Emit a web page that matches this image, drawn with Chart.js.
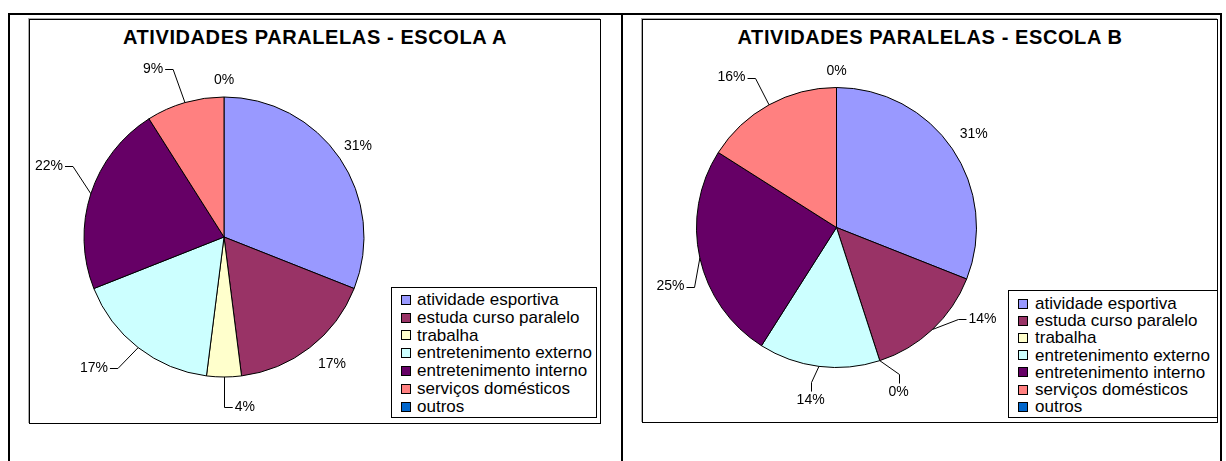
<!DOCTYPE html>
<html><head><meta charset="utf-8">
<script src="https://cdn.jsdelivr.net/npm/chart.js@4.4.1/dist/chart.umd.min.js"></script>
<style>
html,body{margin:0;padding:0;background:#fff;width:1226px;height:461px;overflow:hidden;font-family:"Liberation Sans",Arial,sans-serif;}
.cell{position:absolute;border:2px solid #000;box-sizing:border-box;}
.box{position:absolute;border:1px solid #000;box-shadow:-1px -1px 0 #aaa;box-sizing:border-box;background:#fff;}
.title{position:absolute;text-align:center;font-weight:bold;font-size:20px;letter-spacing:0.6px;line-height:22px;color:#000;white-space:nowrap;}
canvas{position:absolute;}
.legend{position:absolute;border:1px solid #000;box-sizing:border-box;background:#fff;font-size:17px;letter-spacing:0px;color:#000;}
.legend .row{position:relative;white-space:nowrap;}
.legend .sw{position:absolute;width:8px;height:8px;border:1px solid #000;}
.legend .tx{position:absolute;}
</style>
</head><body>
<div class="cell" style="left:8px;top:13px;width:615px;height:480px;"></div>
<div class="cell" style="left:621px;top:13px;width:601px;height:480px;"></div>
<div class="box" style="left:29px;top:19px;width:572px;height:405px;"></div>
<div class="box" style="left:642px;top:19px;width:576px;height:404px;"></div>
<div class="title" id="titleA" style="left:29px;width:572px;top:26px;"></div>
<div class="title" id="titleB" style="left:642px;width:576px;top:26px;"></div>
<canvas id="chartA" width="570" height="403" style="left:30px;top:20px;width:570px;height:403px;"></canvas>
<canvas id="chartB" width="574" height="402" style="left:643px;top:20px;width:574px;height:402px;"></canvas>
<div class="legend" id="legendA" style="left:391px;top:287px;width:206px;height:131px;"></div>
<div class="legend" id="legendB" style="left:1008px;top:290px;width:210px;height:128px;"></div>
<script>
// ---- data ----
const categories = [
  "atividade esportiva",
  "estuda curso paralelo",
  "trabalha",
  "entretenimento externo",
  "entretenimento interno",
  "serviços domésticos",
  "outros"
];
const escolaA = [31, 17, 4, 17, 22, 9, 0];
const escolaB = [31, 14, 0, 14, 25, 16, 0];
const titleA = "ATIVIDADES PARALELAS - ESCOLA A";
const titleB = "ATIVIDADES PARALELAS - ESCOLA B";
const sliceColors = ["#9999FF", "#993366", "#FFFFCC", "#CCFFFF", "#660066", "#FF8080", "#0066CC"];

// ---- label placement (distance from centre, angular shift in degrees, leader type) ----
const placeA = [
  {dist:162, shift:0},
  {dist:167, shift:-2.5},
  {dist:171, shift:-7, leader:'hv'},
  {dist:184.6, shift:7, leader:'h'},
  {dist:188.9, shift:4.1, leader:'h'},
  {dist:182.4, shift:-6.7, leader:'h'},
  {dist:157, shift:0}
];
const placeB = [
  {dist:166, shift:0},
  {dist:172.5, shift:-14.6, leader:'h'},
  {dist:176.3, shift:-2.6, leader:'v'},
  {dist:175, shift:1.3, leader:'v'},
  {dist:176.2, shift:-7, leader:'h'},
  {dist:183, shift:-6.2, leader:'h'},
  {dist:156.5, shift:0}
];

const pctLabels = {
  id: 'pctLabels',
  afterDatasetsDraw(chart, args, opts) {
    const ctx = chart.ctx;
    const meta = chart.getDatasetMeta(0);
    const values = chart.data.datasets[0].data;
    ctx.save();
    ctx.font = opts.font;
    ctx.fillStyle = '#000';
    ctx.strokeStyle = '#000';
    ctx.lineWidth = 1;
    ctx.textAlign = 'center';
    ctx.textBaseline = 'middle';
    meta.data.forEach((arc, i) => {
      const p = arc.getProps(['x','y','startAngle','endAngle','outerRadius'], true);
      const spec = opts.place[i];
      const mid = (p.startAngle + p.endAngle) / 2;
      const a = mid + spec.shift * Math.PI / 180;
      const lx = p.x + Math.cos(a) * spec.dist;
      const ly = p.y + Math.sin(a) * spec.dist;
      const text = values[i] + '%';
      ctx.fillText(text, lx, ly);
      if (spec.leader) {
        const ex = p.x + Math.cos(mid) * p.outerRadius;
        const ey = p.y + Math.sin(mid) * p.outerRadius;
        const w = ctx.measureText(text).width;
        let ax, ay, bx, by;
        if (spec.leader === 'v') {
          ax = Math.round(lx) + 0.5; ay = ly - 9; bx = ax; by = ay - 9;
        } else {
          const dir = ex < lx ? -1 : 1;
          ax = lx + dir * (w / 2 + 2); ay = Math.round(ly) + 0.5;
          bx = spec.leader === 'hv' ? Math.round(ex) + 0.5 : ax + dir * 8; by = ay;
        }
        ctx.beginPath();
        ctx.moveTo(ax, ay);
        ctx.lineTo(bx, by);
        ctx.lineTo(spec.leader === 'hv' ? bx : ex, ey);
        ctx.stroke();
      }
    });
    ctx.restore();
  }
};

function makePie(id, values, place, padding) {
  return new Chart(document.getElementById(id), {
    type: 'pie',
    data: {
      labels: categories,
      datasets: [{
        data: values,
        backgroundColor: sliceColors,
        borderColor: '#000',
        borderWidth: 1,
        radius: 140
      }]
    },
    options: {
      responsive: false,
      animation: false,
      events: [],
      layout: { padding: padding },
      plugins: {
        legend: { display: false },
        tooltip: { enabled: false },
        title: { display: false },
        pctLabels: { font: '14px "Liberation Sans", Arial, sans-serif', place: place }
      }
    },
    plugins: [pctLabels]
  });
}

makePie('chartA', escolaA, placeA, {left:0, right:182, top:31, bottom:0});
makePie('chartB', escolaB, placeB, {left:0, right:187, top:13, bottom:0});

document.getElementById('titleA').textContent = titleA;
document.getElementById('titleB').textContent = titleB;

function buildLegend(id, padTop, rowH, swX, txX) {
  const el = document.getElementById(id);
  categories.forEach((c, i) => {
    const row = document.createElement('div');
    row.className = 'row';
    row.style.height = rowH + 'px';
    row.style.top = padTop + 'px';
    const sw = document.createElement('span');
    sw.className = 'sw';
    sw.style.background = sliceColors[i];
    sw.style.left = swX + 'px';
    sw.style.top = ((rowH - 10) / 2) + 'px';
    const tx = document.createElement('span');
    tx.className = 'tx';
    tx.textContent = c;
    tx.style.left = txX + 'px';
    tx.style.top = '0px';
    tx.style.lineHeight = rowH + 'px';
    row.appendChild(sw);
    row.appendChild(tx);
    el.appendChild(row);
  });
}
buildLegend('legendA', 3, 17.8, 9, 25);
buildLegend('legendB', 4, 17.2, 9, 26);
</script>
</body></html>
